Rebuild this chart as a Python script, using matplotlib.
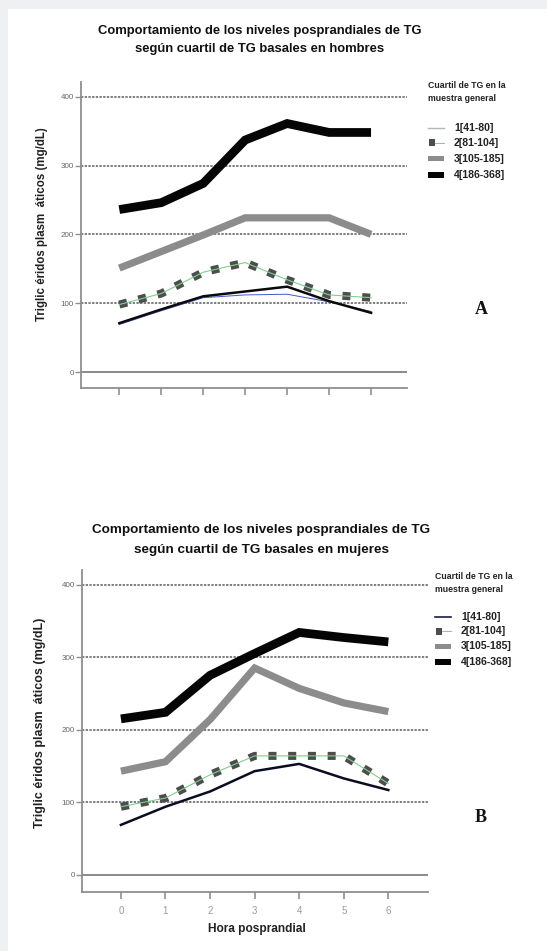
import matplotlib
matplotlib.use("Agg")
import matplotlib.pyplot as plt
from matplotlib import font_manager
from matplotlib.lines import Line2D
from matplotlib.patches import Rectangle

W, H, DPI = 547, 951, 100


def pick(*names):
    avail = {f.name for f in font_manager.fontManager.ttflist}
    for n in names:
        if n in avail:
            return n
    return "DejaVu Sans"


NARROW = pick("Liberation Sans Narrow", "Liberation Sans", "DejaVu Sans")
SANS = pick("Liberation Sans", "DejaVu Sans")
SERIF = pick("Liberation Serif", "DejaVu Serif")

# ---- data -------------------------------------------------------------
hours = [0, 1, 2, 3, 4, 5, 6]
y_ticks = [0, 100, 200, 300, 400]
hour_labels = ["0", "1", "2", "3", "4", "5", "6"]
quartile_labels = ["1[41-80]", "2[81-104]", "3[105-185]", "4[186-368]"]
legend_title = "Cuartil de TG en la\nmuestra general"

title_men = "Comportamiento de los niveles posprandiales de TG\nsegún cuartil de TG basales en hombres"
title_women = "Comportamiento de los niveles posprandiales de TG\nsegún cuartil de TG basales en mujeres"
y_label = "Triglic éridos plasm  áticos (mg/dL)"
x_label = "Hora posprandial"

men_q1 = [71, 91, 110, 117, 124, 103, 86]
men_q1_trace = [69, 89, 108, 112, 113, 102, 88]
men_q2 = [98, 114, 145, 159, 134, 112, 108]
men_q3 = [151, 175, 199, 224, 224, 224, 200]
men_q4 = [236, 246, 274, 337, 361, 348, 348]

women_q1 = [69, 94, 115, 143, 153, 133, 117]
women_q2 = [94, 106, 138, 164, 164, 164, 126]
women_q3 = [143, 156, 214, 285, 257, 237, 225]
women_q4 = [215, 224, 275, 305, 334, 327, 321]

# ---- styles -----------------------------------------------------------
C_Q2 = "#4d4d4d"
C_Q2_LINE = "#7fcf8c"
C_Q3 = "#8c8c8c"
C_Q4 = "#050505"
C_AXIS = "#8f8f8f"


def px(x, y):
    """pixel position (from top-left) -> figure fraction"""
    return x / W, 1 - y / H


fig = plt.figure(figsize=(W / DPI, H / DPI), dpi=DPI, facecolor="white")

# page margin strips
fig.add_artist(Rectangle((0, 1 - 9 / H), 1, 9 / H, transform=fig.transFigure,
                         facecolor="#eef0f3", edgecolor="none", zorder=0))
fig.add_artist(Rectangle((0, 0), 8 / W, 1, transform=fig.transFigure,
                         facecolor="#eef0f3", edgecolor="none", zorder=0))


def make_axes(left, top, right, bottom):
    l, t = px(left, top)
    r, b = px(right, bottom)
    return fig.add_axes([l, b, r - l, t - b])


def draw_panel(ax, q1, q2, q3, q4, xlim, ylim, q1_color, show_xlabels, q1_trace=None):
    ax.set_xlim(*xlim)
    ax.set_ylim(*ylim)
    for s in ("top", "right"):
        ax.spines[s].set_visible(False)
    for s in ("left", "bottom"):
        ax.spines[s].set_color(C_AXIS)
        ax.spines[s].set_linewidth(1.3)

    for yv in y_ticks[1:]:
        ax.axhline(yv, color="#7e7e7e", lw=1.4, ls=(0, (1.2, 0.7)), zorder=1)
    ax.axhline(y_ticks[0], color="#8a8a8a", lw=1.4, zorder=1)

    ax.set_yticks(y_ticks)
    ax.set_yticklabels([str(v) for v in y_ticks], fontsize=5.8, color="#666666",
                       family=NARROW)
    ax.tick_params(axis="y", direction="out", length=4, width=1.0, color=C_AXIS, pad=1)
    ax.set_xticks(hours)
    if show_xlabels:
        ax.set_xticklabels(hour_labels, fontsize=7, color="#9a9a9a", family=NARROW)
    else:
        ax.set_xticklabels([])
    ax.tick_params(axis="x", direction="out", length=5, width=1.2, color=C_AXIS, pad=5)

    ax.plot(hours, q4, color=C_Q4, lw=6.3, solid_joinstyle="miter",
            solid_capstyle="butt", zorder=5)
    ax.plot(hours, q3, color=C_Q3, lw=5.2, solid_joinstyle="miter",
            solid_capstyle="butt", zorder=4)
    ax.plot(hours, q2, color=C_Q2, lw=5.8, ls=(0, (1.0, 1.45)),
            dash_capstyle="butt", zorder=4)
    ax.plot(hours, q2, color=C_Q2_LINE, lw=0.8, zorder=5)
    if q1_trace is not None:
        ax.plot(hours, q1_trace, color="#3f56c8", lw=0.7, zorder=5)
    ax.plot(hours, q1, color=q1_color, lw=1.8, zorder=6)


def draw_legend(x0, ytitle, yitems, q1_handle_color, q1_lw):
    tx, ty = px(x0, ytitle)
    fig.text(tx, ty, legend_title, fontsize=6.3, fontweight="bold", family=NARROW,
             color="#222222", ha="left", va="center", linespacing=1.5)
    hx0, hx1 = x0, x0 + 16
    for i, (lab, yy) in enumerate(zip(quartile_labels, yitems)):
        if i == 0:
            a, b = px(hx0, yy)
            c, _ = px(hx1, yy)
            fig.add_artist(Line2D([a, c], [b, b], color=q1_handle_color, lw=q1_lw,
                                  transform=fig.transFigure))
        elif i == 1:
            a, b = px(hx0 + 1, yy + 3.5)
            fig.add_artist(Rectangle((a, b), 6 / W, 7 / H, transform=fig.transFigure,
                                     facecolor=C_Q2, edgecolor="none"))
            a, b = px(hx0 + 7, yy)
            c, _ = px(hx1, yy)
            fig.add_artist(Line2D([a, c], [b, b], color=C_Q2_LINE, lw=0.7,
                                  transform=fig.transFigure))
        else:
            hgt = 5 if i == 2 else 6
            a, b = px(hx0, yy + hgt / 2)
            fig.add_artist(Rectangle((a, b), 16 / W, hgt / H, transform=fig.transFigure,
                                     facecolor=C_Q3 if i == 2 else C_Q4, edgecolor="none"))
        lx, ly = px(hx1 + 10, yy)
        fig.text(lx, ly, lab, fontsize=7.6, fontweight="bold", family=SANS,
                 color="#222222", ha="left", va="center")


# ---- panel A: men -----------------------------------------------------
axA = make_axes(80.7, 82, 406.7, 388)
draw_panel(axA, men_q1, men_q2, men_q3, men_q4, (-0.92, 6.85), (-23.2, 421.3),
           "#0a0a0a", False, q1_trace=men_q1_trace)
fig.text(*px(260, 40), title_men, fontsize=9.4, fontweight="bold", family=NARROW,
         ha="center", va="center", linespacing=1.75, color="#111111")
fig.text(*px(42, 224), y_label, rotation=90, fontsize=8.3, fontweight="bold",
         family=NARROW, ha="center", va="center", color="#222222")
draw_legend(428, 92, [128, 142.5, 158.5, 175], "#b5b5b5", 1.0)
fig.text(*px(481, 309), "A", fontsize=13, fontweight="bold", family=SERIF,
         ha="center", va="center", color="#111111")

# ---- panel B: women ---------------------------------------------------
axB = make_axes(81.7, 570, 428, 891.7)
draw_panel(axB, women_q1, women_q2, women_q3, women_q4, (-0.88, 6.89), (-23, 420),
           "#0b0b22", True)
fig.text(*px(261, 540), title_women, fontsize=9.7, fontweight="bold", family=NARROW,
         ha="center", va="center", linespacing=1.95, color="#111111")
fig.text(*px(40, 723), y_label, rotation=90, fontsize=9.0, fontweight="bold",
         family=NARROW, ha="center", va="center", color="#222222")
fig.text(*px(257, 929), x_label, fontsize=8.6, fontweight="bold", family=NARROW,
         ha="center", va="center", color="#222222")
draw_legend(435, 583, [617, 631, 646, 662], "#1a1a4a", 1.2)
fig.text(*px(481, 817), "B", fontsize=13, fontweight="bold", family=SERIF,
         ha="center", va="center", color="#111111")

fig.savefig("out.png", dpi=DPI, facecolor="white")
